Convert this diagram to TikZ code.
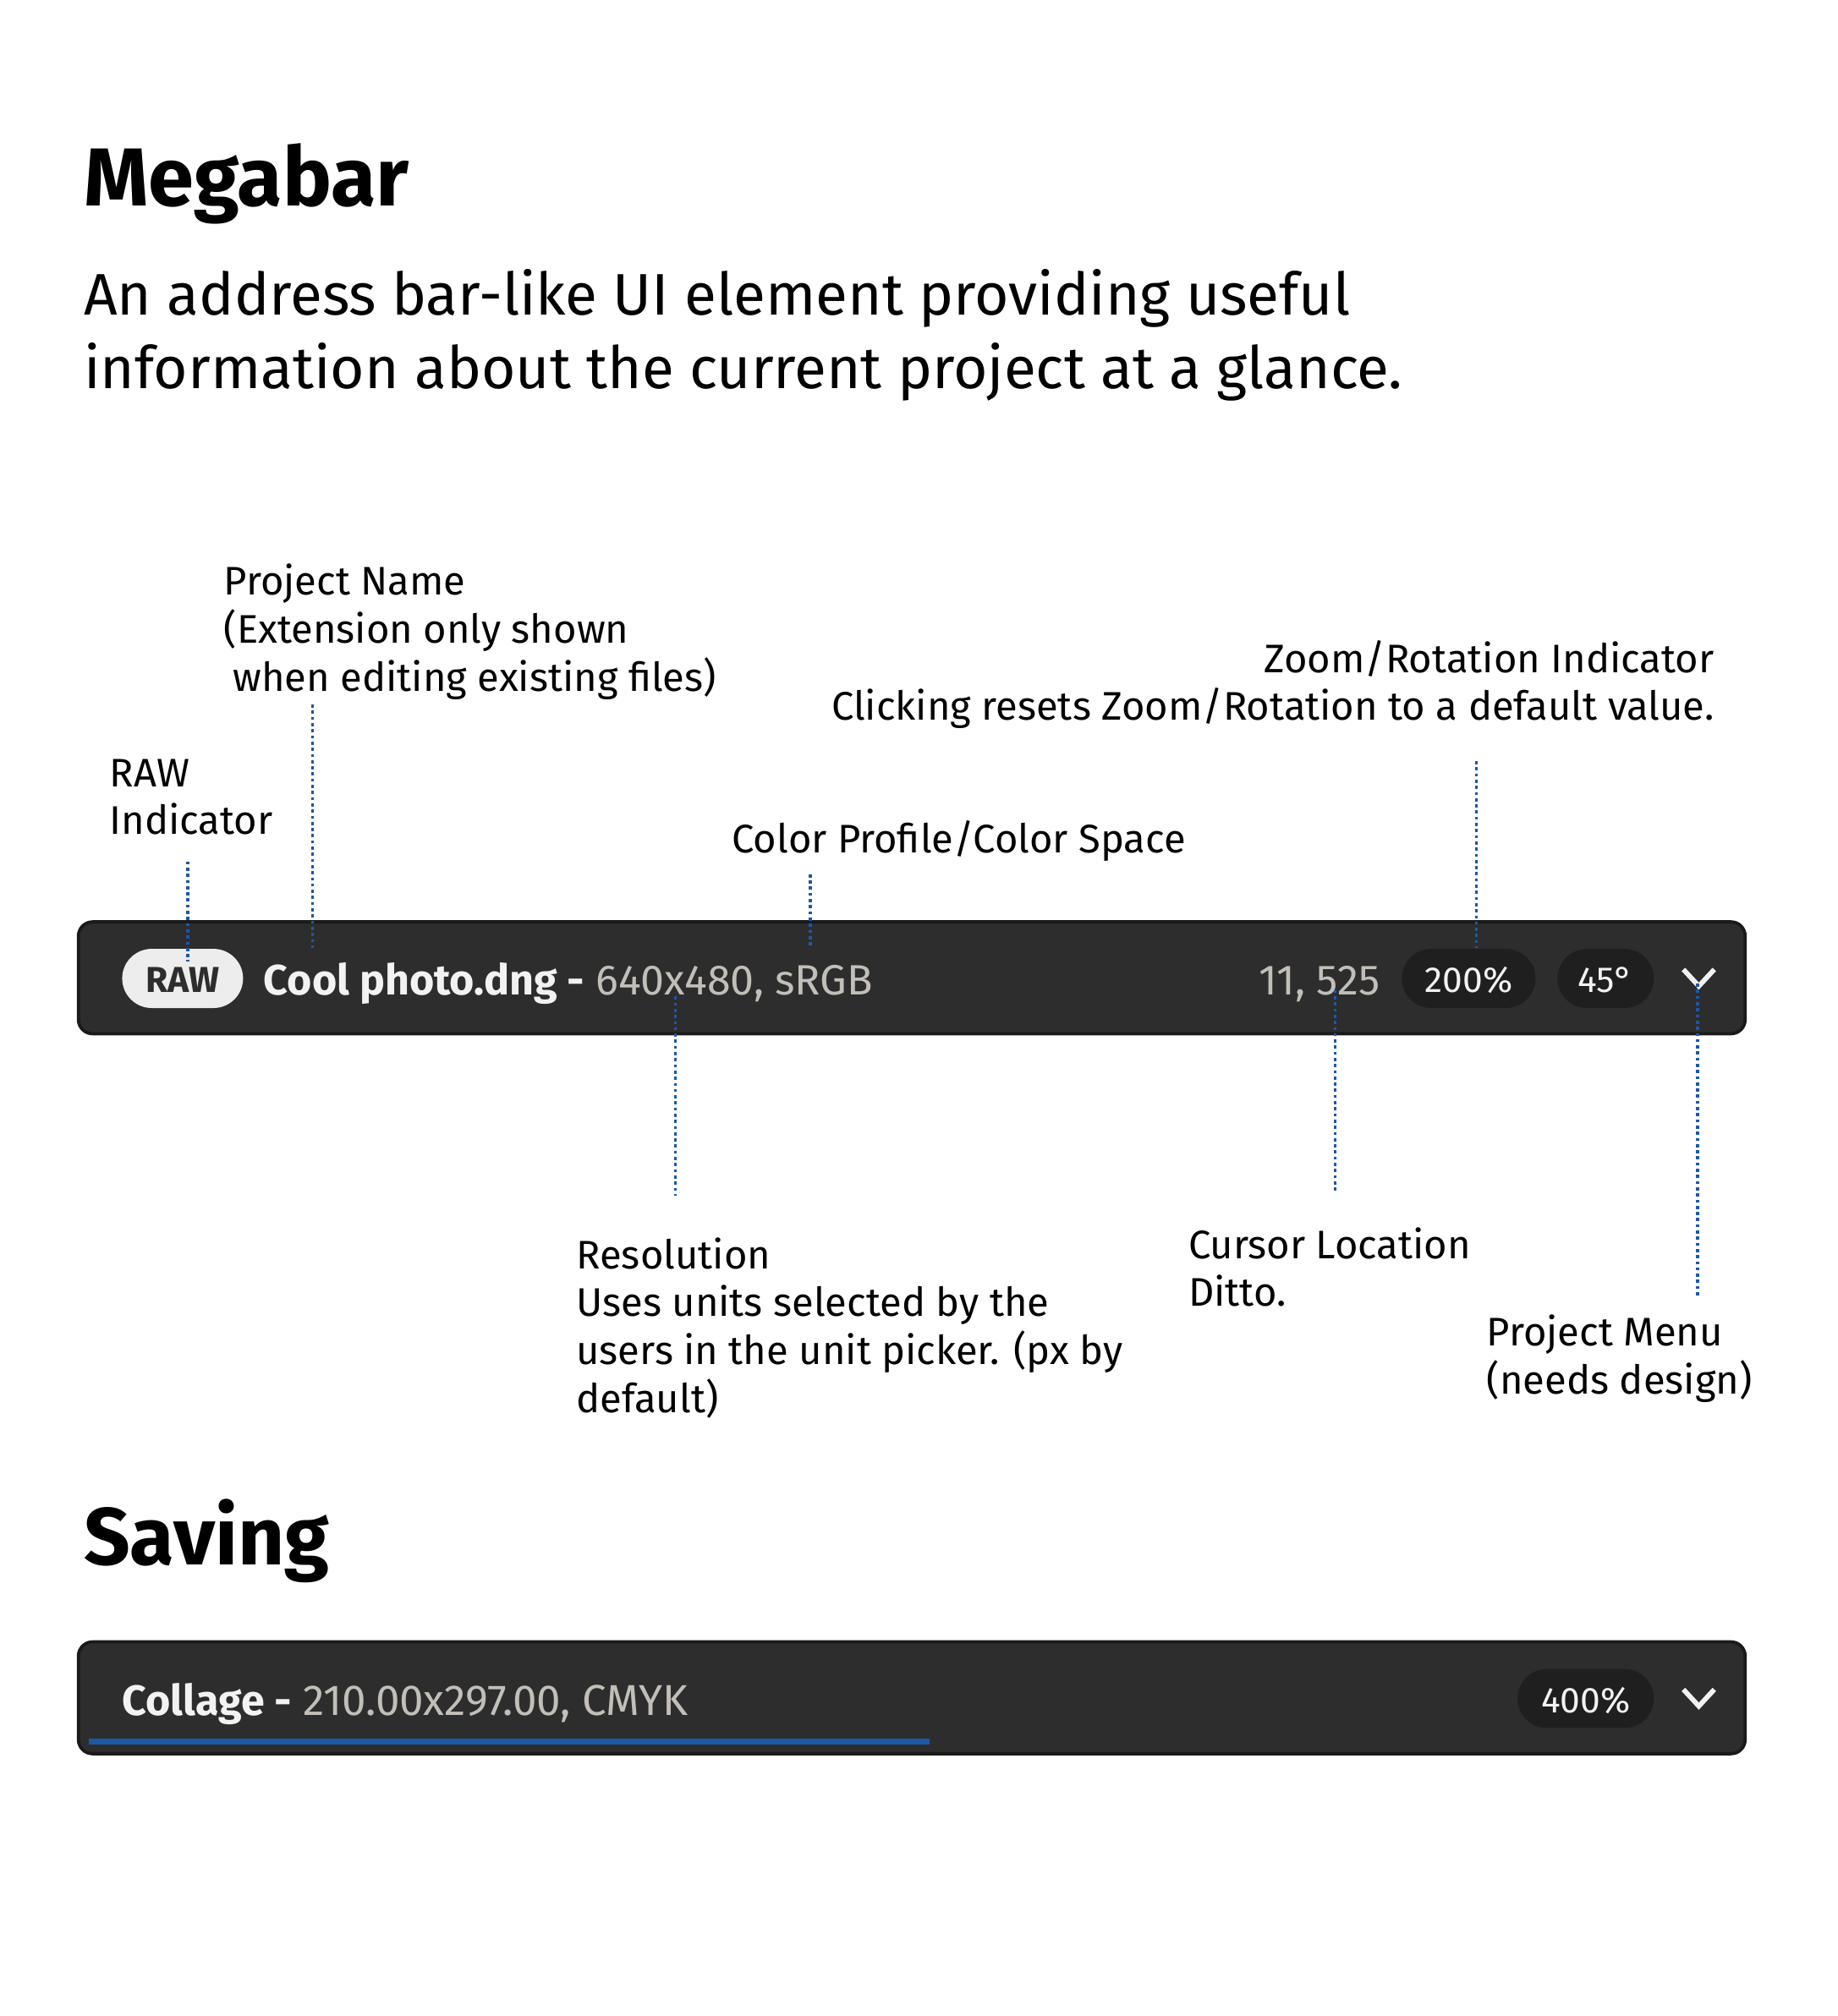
\documentclass[tikz,border=0pt]{standalone}
\usepackage{fontspec}
\setmainfont{Fira Sans}
\definecolor{barbg}{HTML}{2D2D2D}
\definecolor{barline}{HTML}{1A1A1A}
\definecolor{pilldark}{HTML}{1F1F1F}
\definecolor{pilllight}{HTML}{EDEDED}
\definecolor{dimtext}{HTML}{C2BEB8}
\definecolor{brighttext}{HTML}{F2F2F2}
\definecolor{dotblue}{HTML}{1C58A8}
\newcommand{\lbl}[1]{\begin{tabular}[t]{@{}l@{}}#1\end{tabular}}
\newcommand{\lblr}[1]{\begin{tabular}[t]{@{}r@{}}#1\end{tabular}}
\begin{document}
\begin{tikzpicture}[x=1pt,y=-1pt,
  txt/.style={inner sep=0pt, anchor=base west, text=black},
  label/.style={txt, font=\fontsize{31}{37}\selectfont},
  bar/.style={fill=barbg, draw=barline, line width=2.5pt, rounded corners=11pt},
  pillD/.style={fill=pilldark, rounded corners=23pt},
  pillL/.style={fill=pilllight, rounded corners=23pt},
  pilltext/.style={inner sep=0pt, anchor=base, text=brighttext, font=\fontsize{28}{32}\selectfont},
  bartext/.style={inner sep=0pt, anchor=base west, font=\fontsize{33}{40}\selectfont},
  dotline/.style={draw=dotblue, line width=2.2pt, dash pattern=on 2.4pt off 2.4pt},
  chev/.style={draw=brighttext, line width=3.8pt, line join=miter}
]
\useasboundingbox[fill=white] (0,0) rectangle (1429,1568);

% Headings
\node[txt, font=\fontsize{64}{70}\selectfont\bfseries] (h1) at (65,160) {Megabar};
\node[txt, font=\fontsize{45.6}{57}\selectfont] (sub) at (65,245)
  {\begin{tabular}[t]{@{}l@{}}An address bar-like UI element providing useful\\information about the current project at a glance.\end{tabular}};

% Labels above
\node[label] (lname) at (174,463) {\lbl{Project Name\\(Extension only shown\\\hspace{7pt}when editing existing files)}};
\node[label] (lraw) at (85,612) {\lbl{RAW\\Indicator}};
\node[label] (lcol) at (569,663) {Color Profile/Color Space};
\node[label, anchor=base east] (lzoom) at (1333,523) {\lblr{Zoom/Rotation Indicator\\Clicking resets Zoom/Rotation to a default value.}};

% Labels below
\node[label] (lres) at (448,987) {\lbl{Resolution\\Uses units selected by the\\users in the unit picker. (px by\\default)}};
\node[label] (lcur) at (924,979) {\lbl{Cursor Location\\Ditto.}};
\node[label] (lmenu) at (1156,1047) {\lbl{Project Menu\\(needs design)}};

% Bar 1
\draw[bar] (61,717) rectangle (1357,804);
\fill[pillL] (95,738) rectangle (189,784);
\node[pilltext, text=barbg, font=\fontsize{28}{32}\selectfont\bfseries] (raw) at (142,772) {RAW};
\node[bartext] (pname) at (205,774) {\textcolor{brighttext}{\bfseries Cool photo.dng -} \textcolor{dimtext}{640x480, sRGB}};
\node[bartext, anchor=base east, text=dimtext] (cursor) at (1073,774) {11, 525};
\fill[pillD] (1090,738) rectangle (1194,784);
\node[pilltext] (zoom) at (1142,772) {200\%};
\fill[pillD] (1211,738) rectangle (1286,784);
\node[pilltext] (rot) at (1248.5,772) {45°};
\coordinate (chevL) at (1309,754);
\coordinate (chevM) at (1321,767);
\coordinate (chevR) at (1333,754);
\draw[chev] (chevL) -- (chevM) -- (chevR);

% Dotted connectors
\coordinate (rawA) at (146,670); \coordinate (rawB) at (146,748);
\coordinate (nameA) at (243,548); \coordinate (nameB) at (243,737);
\coordinate (colA) at (630,680); \coordinate (colB) at (630,737);
\coordinate (zoomA) at (1148,592); \coordinate (zoomB) at (1148,737);
\coordinate (resA) at (525,775); \coordinate (resB) at (525,930);
\coordinate (curA) at (1038,770); \coordinate (curB) at (1038,928);
\coordinate (menuA) at (1320,765); \coordinate (menuB) at (1320,1008);
\draw[dotline] (rawA) -- (rawB);
\draw[dotline] (nameA) -- (nameB);
\draw[dotline] (colA) -- (colB);
\draw[dotline] (zoomA) -- (zoomB);
\draw[dotline] (resA) -- (resB);
\draw[dotline] (curA) -- (curB);
\draw[dotline] (menuA) -- (menuB);

% Saving
\node[txt, font=\fontsize{63}{70}\selectfont\bfseries] (h2) at (65,1217) {Saving};
\draw[bar] (61,1277) rectangle (1357,1364);
\node[bartext] (pname2) at (95,1334) {\textcolor{brighttext}{\bfseries Collage -} \textcolor{dimtext}{\fontsize{33.6}{40}\selectfont 210.00x297.00, CMYK}};
\fill[pillD] (1180,1298) rectangle (1286,1344);
\node[pilltext] (zoom2) at (1233,1332) {400\%};
\coordinate (chev2L) at (1309,1314);
\coordinate (chev2M) at (1321,1327);
\coordinate (chev2R) at (1333,1314);
\draw[chev] (chev2L) -- (chev2M) -- (chev2R);
\fill[dotblue] (69,1352) rectangle (723,1357);
\end{tikzpicture}
\end{document}
